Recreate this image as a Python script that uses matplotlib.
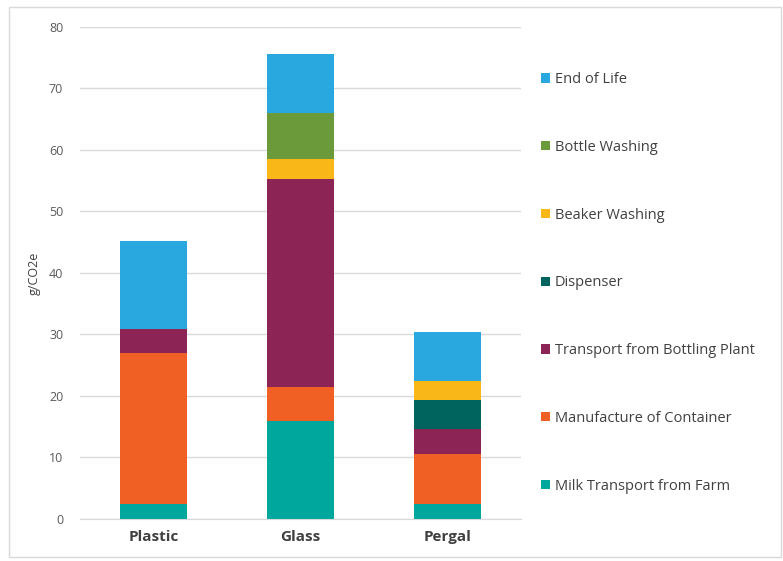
import matplotlib.pyplot as plt
import numpy as np

containers = ["Plastic", "Glass", "Pergal"]
stages = ["Milk Transport from Farm", "Manufacture of Container", "Transport from Bottling Plant",
          "Dispenser", "Beaker Washing", "Bottle Washing", "End of Life"]
milk_transport = [2.4, 15.9, 2.4]
manufacture = [24.6, 5.6, 8.2]
transport_bottling = [3.9, 33.7, 4.0]
dispenser = [0, 0, 4.7]
beaker_washing = [0, 3.3, 3.2]
bottle_washing = [0, 7.5, 0]
end_of_life = [14.3, 9.6, 7.9]
colors = ["#00A79D", "#F05F23", "#8C2455", "#00645E", "#F9B818", "#6A9A3A", "#29A8E0"]

series = [milk_transport, manufacture, transport_bottling, dispenser,
          beaker_washing, bottle_washing, end_of_life]

plt.rcParams['font.family'] = ['Open Sans', 'DejaVu Sans']

fig = plt.figure(figsize=(7.83, 5.61), dpi=100)
ax = fig.add_axes([0.102, 0.075, 0.563, 0.877])

# outer frame like a pasted office chart
fig.patches.append(plt.Rectangle((0.012, 0.008), 0.985, 0.98, transform=fig.transFigure,
                                 fill=False, edgecolor="#D9D9D9", linewidth=1))

x = np.arange(len(containers))
bottom = np.zeros(len(containers))
handles = []
for name, vals, c in zip(stages, series, colors):
    b = ax.bar(x, vals, width=0.456, bottom=bottom, color=c, label=name)
    handles.append(b)
    bottom += np.array(vals)

ax.set_xlim(-0.5, 2.5)
ax.set_ylim(0, 80)
ax.set_yticks(range(0, 81, 10))
ax.yaxis.grid(True, color="#D9D9D9", linewidth=1)
ax.set_axisbelow(True)
for s in ["top", "right", "left"]:
    ax.spines[s].set_visible(False)
ax.spines["bottom"].set_color("#D9D9D9")
ax.tick_params(axis="both", length=0)
ax.tick_params(axis="y", labelsize=9, labelcolor="#595959", pad=12)
ax.set_xticks(x)
ax.set_xticklabels(containers, fontsize=11, fontweight="bold", color="#404040")
ax.tick_params(axis="x", pad=8)
ax.set_ylabel("g/CO2e", fontsize=9, color="#404040", labelpad=6)

ax.legend(handles[::-1], stages[::-1], loc="upper left", bbox_to_anchor=(1.016, 0.935),
          frameon=False, fontsize=10.5, labelspacing=3.62, handlelength=0.6,
          handleheight=0.6, handletextpad=0.35, labelcolor="#404040")

fig.savefig("out.png", dpi=100)
